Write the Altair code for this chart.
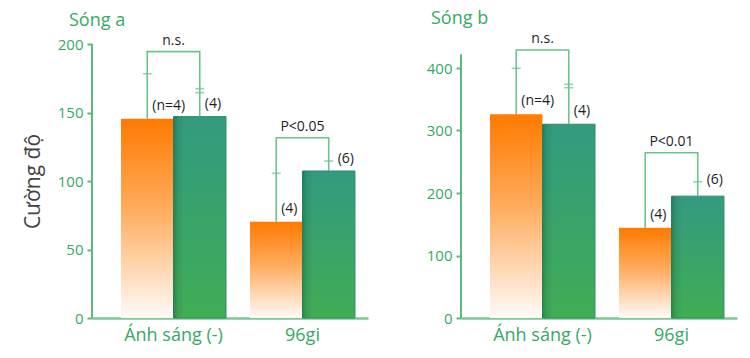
import altair as alt
import pandas as pd

# ---------------- data ----------------
categories = ["Ánh sáng (-)", "96gi"]
series = ["cam", "xanh"]

# Sóng a
a_orange = [145.5, 70.3]
a_green = [147.0, 107.3]
a_orange_cap = [178.3, 105.6]
a_green_cap = [167.4, 114.6]
a_green_cap2 = [164.5, None]
a_bracket = [194.4, 131.6]
a_sig = ["n.s.", "P<0.05"]
a_n_orange = ["(n=4)", "(4)"]
a_n_green = ["(4)", "(6)"]
a_ticks = [0, 50, 100, 150, 200]
a_axis_top = 200
a_domain_max = 200

# Sóng b
b_orange = [326.0, 144.5]
b_green = [310.0, 195.0]
b_orange_cap = [399.5, None]
b_green_cap = [373.9, 218.0]
b_green_cap2 = [368.5, None]
b_bracket = [428.8, 264.5]
b_sig = ["n.s.", "P<0.01"]
b_n_orange = ["(n=4)", "(4)"]
b_n_green = ["(4)", "(6)"]
b_ticks = [0, 100, 200, 300, 400]
b_axis_top = 422
b_domain_max = 438.4

# ---------------- style ----------------
FONT = "Open Sans"
GREEN_TXT = "#36a965"
AXIS_GREEN = "#5dba7d"
W, H = 276, 274

orange_grad = alt.LinearGradient(
    gradient="linear", x1=0, x2=0, y1=0, y2=1,
    stops=[alt.GradientStop(color="#ff7a00", offset=0),
           alt.GradientStop(color="#ffab5c", offset=0.45),
           alt.GradientStop(color="#fffbf8", offset=1)])
green_grad = alt.LinearGradient(
    gradient="linear", x1=0, x2=0, y1=0, y2=1,
    stops=[alt.GradientStop(color="#339a80", offset=0),
           alt.GradientStop(color="#3aa468", offset=0.55),
           alt.GradientStop(color="#41ad55", offset=1)])
shadow_grad = alt.LinearGradient(
    gradient="linear", x1=0, x2=1, y1=0, y2=0,
    stops=[alt.GradientStop(color="rgba(0,50,30,0.30)", offset=0),
           alt.GradientStop(color="rgba(0,50,30,0.10)", offset=0.08),
           alt.GradientStop(color="rgba(0,50,30,0)", offset=0.2)])


def panel(title, title_dx, title_dy, orange, green, o_cap, g_cap, g_cap2,
          bracket, sig, n_o, n_g, ticks, axis_top, dmax, show_title):
    bars = pd.DataFrame({
        "cat": categories * 2,
        "s": [series[0]] * 2 + [series[1]] * 2,
        "v": orange + green,
    })
    # bracket lines: bar top -> bracket -> bracket -> bar top
    rows = []
    for i, c in enumerate(categories):
        rows += [
            {"cat": c, "s": series[0], "v": orange[i], "o": 0},
            {"cat": c, "s": series[0], "v": bracket[i], "o": 1},
            {"cat": c, "s": series[1], "v": bracket[i], "o": 2},
            {"cat": c, "s": series[1], "v": green[i], "o": 3},
        ]
    br = pd.DataFrame(rows)
    caps = []
    for i, c in enumerate(categories):
        for s, lst in ((series[0], o_cap), (series[1], g_cap), (series[1], g_cap2)):
            if lst[i] is not None:
                caps.append({"cat": c, "s": s, "v": lst[i]})
    caps = pd.DataFrame(caps)
    sigdf = pd.DataFrame({"cat": categories, "v": bracket, "t": sig})
    nl = []
    for i, c in enumerate(categories):
        nl.append({"cat": c, "s": series[0], "v": orange[i], "t": n_o[i]})
        if n_g[i] == "(6)":
            nl.append({"cat": c, "s": series[1], "v": g_cap[i], "t": n_g[i], "cap": 1})
        else:
            nl.append({"cat": c, "s": series[1], "v": green[i], "t": n_g[i], "cap": 0})
    nl = pd.DataFrame(nl).fillna(0)

    xenc = alt.X("cat:N", sort=categories, title=None,
                 scale=alt.Scale(paddingInner=0.186, paddingOuter=0.163, align=0.69),
                 axis=alt.Axis(labelAngle=0, ticks=False, domain=True,
                               domainColor="#7cc796", domainWidth=2.5,
                               labelColor=GREEN_TXT, labelFontSize=18,
                               labelFont=FONT, labelPadding=8))
    xo = alt.XOffset("s:N", sort=series, scale=alt.Scale(paddingInner=0, paddingOuter=0))
    yaxis = alt.Axis(values=ticks, grid=False, domain=False, tickSize=5, tickWidth=2,
                     tickColor=AXIS_GREEN, labelColor=GREEN_TXT, labelFontSize=15,
                     labelFont=FONT, labelPadding=4,
                     title="Cường độ" if show_title else None,
                     titleColor="#444444", titleFontSize=21, titleFontWeight="normal",
                     titleFont=FONT, titlePadding=14)
    yscale = alt.Scale(domain=[0, dmax], nice=False, zero=True)
    yenc = alt.Y("v:Q", scale=yscale, axis=yaxis)
    y2 = alt.Y("v:Q", scale=yscale)

    base_bars = alt.Chart(bars)
    o_bar = base_bars.transform_filter(alt.datum.s == series[0]).mark_bar(
        color=orange_grad).encode(x=xenc, xOffset=xo, y=yenc)
    g_bar = base_bars.transform_filter(alt.datum.s == series[1]).mark_bar(
        color=green_grad, stroke="#2a8f63", strokeWidth=1).encode(x=xenc, xOffset=xo, y=y2)
    g_sh = base_bars.transform_filter(alt.datum.s == series[1]).mark_bar(
        color=shadow_grad).encode(x=xenc, xOffset=xo, y=y2)

    yaxis_line = alt.Chart(pd.DataFrame({"a": [0], "b": [axis_top]})).mark_rule(
        color=AXIS_GREEN, strokeWidth=2).encode(
        x=alt.value(0), y=alt.Y("a:Q", scale=yscale), y2="b:Q")

    lines = alt.Chart(br).mark_line(color="#6cc38b", strokeWidth=1.6).encode(
        x=xenc, xOffset=xo, y=y2, order="o:Q", detail="cat:N")
    capm = alt.Chart(caps).mark_tick(color="#6cc38b", size=9, thickness=1.6).encode(
        x=xenc, xOffset=xo, y=y2)
    sigt = alt.Chart(sigdf).mark_text(font=FONT, fontSize=14, color="#1e1e1e",
                                      baseline="alphabetic", dy=-7).encode(
        x=xenc, y=y2, text="t:N")
    nt_bar = alt.Chart(nl).transform_filter(alt.datum.cap == 0).mark_text(
        font=FONT, fontSize=14, color="#1e1e1e", align="left", baseline="middle",
        dx=5, dy=-13).encode(x=xenc, xOffset=xo, y=y2, text="t:N")
    nt_cap = alt.Chart(nl).transform_filter(alt.datum.cap == 1).mark_text(
        font=FONT, fontSize=14, color="#1e1e1e", align="left", baseline="middle",
        dx=9, dy=-2).encode(x=xenc, xOffset=xo, y=y2, text="t:N")
    ttl = alt.Chart(pd.DataFrame({"t": [title]})).mark_text(
        font=FONT, fontSize=18, color=GREEN_TXT, align="left",
        baseline="alphabetic").encode(x=alt.value(title_dx), y=alt.value(title_dy),
                                      text="t:N")

    return alt.layer(o_bar, g_bar, g_sh, yaxis_line, lines, capm, sigt, nt_bar,
                     nt_cap, ttl).properties(width=W, height=H)


left = panel("Sóng a", -23, -18, a_orange, a_green, a_orange_cap, a_green_cap,
             a_green_cap2, a_bracket, a_sig, a_n_orange, a_n_green, a_ticks,
             a_axis_top, a_domain_max, True)
right = panel("Sóng b", -30, -20, b_orange, b_green, b_orange_cap, b_green_cap,
              b_green_cap2, b_bracket, b_sig, b_n_orange, b_n_green, b_ticks,
              b_axis_top, b_domain_max, False)

chart = alt.hconcat(left, right, spacing=58).properties(
    padding={"left": 22, "top": 10, "right": 5, "bottom": 5},
    background="white",
).configure_view(stroke=None)

chart.save("out.html", embed_options={"renderer": "svg", "actions": False})
